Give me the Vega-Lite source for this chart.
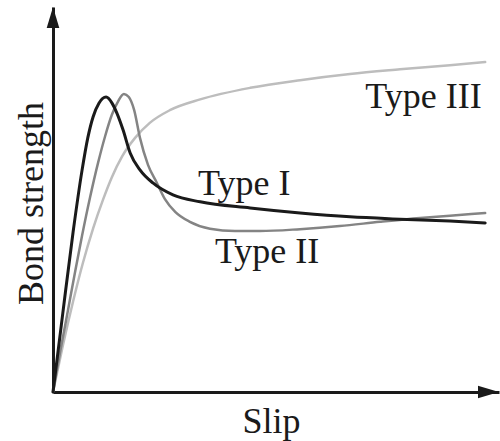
{
  "$schema": "https://vega.github.io/schema/vega-lite/v6.json",
  "width": 446,
  "height": 385,
  "autosize": {"type": "none"},
  "padding": {"left": 53, "top": 7, "right": 1, "bottom": 49},
  "background": "white",
  "config": {"view": {"stroke": null}, "font": "Liberation Serif"},
  "datasets": {
    "curves": [
      {"type": "Type III", "slip": 0, "bond": 0},
      {"type": "Type III", "slip": 0.22, "bond": 1.2},
      {"type": "Type III", "slip": 0.45, "bond": 2.35},
      {"type": "Type III", "slip": 0.67, "bond": 3.35},
      {"type": "Type III", "slip": 0.9, "bond": 4.25},
      {"type": "Type III", "slip": 1.12, "bond": 4.99},
      {"type": "Type III", "slip": 1.32, "bond": 5.58},
      {"type": "Type III", "slip": 1.55, "bond": 6.12},
      {"type": "Type III", "slip": 1.84, "bond": 6.6},
      {"type": "Type III", "slip": 2.17, "bond": 6.99},
      {"type": "Type III", "slip": 2.62, "bond": 7.32},
      {"type": "Type III", "slip": 3.3, "bond": 7.6},
      {"type": "Type III", "slip": 4.42, "bond": 7.9},
      {"type": "Type III", "slip": 5.54, "bond": 8.1},
      {"type": "Type III", "slip": 6.66, "bond": 8.26},
      {"type": "Type III", "slip": 7.78, "bond": 8.38},
      {"type": "Type III", "slip": 8.9, "bond": 8.49},
      {"type": "Type III", "slip": 9.69, "bond": 8.57},

      {"type": "Type II", "slip": 0, "bond": 0},
      {"type": "Type II", "slip": 0.17, "bond": 1.1},
      {"type": "Type II", "slip": 0.34, "bond": 2.15},
      {"type": "Type II", "slip": 0.5, "bond": 3.15},
      {"type": "Type II", "slip": 0.65, "bond": 4.05},
      {"type": "Type II", "slip": 0.83, "bond": 5.05},
      {"type": "Type II", "slip": 1.01, "bond": 5.95},
      {"type": "Type II", "slip": 1.17, "bond": 6.65},
      {"type": "Type II", "slip": 1.32, "bond": 7.2},
      {"type": "Type II", "slip": 1.46, "bond": 7.55},
      {"type": "Type II", "slip": 1.59, "bond": 7.74},
      {"type": "Type II", "slip": 1.7, "bond": 7.66},
      {"type": "Type II", "slip": 1.82, "bond": 7.32},
      {"type": "Type II", "slip": 1.95, "bond": 6.6},
      {"type": "Type II", "slip": 2.13, "bond": 5.9},
      {"type": "Type II", "slip": 2.33, "bond": 5.43},
      {"type": "Type II", "slip": 2.51, "bond": 5.01},
      {"type": "Type II", "slip": 2.74, "bond": 4.68},
      {"type": "Type II", "slip": 3.07, "bond": 4.42},
      {"type": "Type II", "slip": 3.52, "bond": 4.24},
      {"type": "Type II", "slip": 4.08, "bond": 4.18},
      {"type": "Type II", "slip": 4.64, "bond": 4.18},
      {"type": "Type II", "slip": 5.54, "bond": 4.23},
      {"type": "Type II", "slip": 6.43, "bond": 4.31},
      {"type": "Type II", "slip": 7.33, "bond": 4.42},
      {"type": "Type II", "slip": 8.23, "bond": 4.52},
      {"type": "Type II", "slip": 8.9, "bond": 4.58},
      {"type": "Type II", "slip": 9.69, "bond": 4.65},

      {"type": "Type I", "slip": 0, "bond": 0},
      {"type": "Type I", "slip": 0.22, "bond": 2.05},
      {"type": "Type I", "slip": 0.45, "bond": 4.15},
      {"type": "Type I", "slip": 0.65, "bond": 5.75},
      {"type": "Type I", "slip": 0.78, "bond": 6.6},
      {"type": "Type I", "slip": 0.9, "bond": 7.15},
      {"type": "Type I", "slip": 1.03, "bond": 7.5},
      {"type": "Type I", "slip": 1.19, "bond": 7.66},
      {"type": "Type I", "slip": 1.32, "bond": 7.51},
      {"type": "Type I", "slip": 1.43, "bond": 7.25},
      {"type": "Type I", "slip": 1.57, "bond": 6.81},
      {"type": "Type I", "slip": 1.73, "bond": 6.21},
      {"type": "Type I", "slip": 1.95, "bond": 5.77},
      {"type": "Type I", "slip": 2.24, "bond": 5.43},
      {"type": "Type I", "slip": 2.69, "bond": 5.12},
      {"type": "Type I", "slip": 3.3, "bond": 4.94},
      {"type": "Type I", "slip": 4.42, "bond": 4.78},
      {"type": "Type I", "slip": 5.54, "bond": 4.65},
      {"type": "Type I", "slip": 6.66, "bond": 4.55},
      {"type": "Type I", "slip": 7.78, "bond": 4.49},
      {"type": "Type I", "slip": 8.9, "bond": 4.44},
      {"type": "Type I", "slip": 9.69, "bond": 4.39}
    ],
    "labels": [
      {"label": "Type I", "slip": 3.25, "bond": 5.12},
      {"label": "Type II", "slip": 3.63, "bond": 3.35},
      {"label": "Type III", "slip": 7.0, "bond": 7.38}
    ],
    "arrowX": [{"slip": 10, "bond": 0}],
    "arrowY": [{"slip": 0, "bond": 10}]
  },
  "encoding": {
    "x": {
      "field": "slip",
      "type": "quantitative",
      "scale": {"domain": [0, 10], "nice": false, "zero": false},
      "axis": {
        "title": "Slip",
        "domain": true,
        "domainColor": "#1a1a1a",
        "domainWidth": 3,
        "ticks": false,
        "labels": false,
        "grid": false,
        "titleFont": "Liberation Serif",
        "titleFontSize": 36,
        "titleFontWeight": "normal",
        "titleColor": "#1a1a1a",
        "titleAlign": "center",
        "titleBaseline": "alphabetic",
        "titleX": 218,
        "titleY": 40
      }
    },
    "y": {
      "field": "bond",
      "type": "quantitative",
      "scale": {"domain": [0, 10], "nice": false, "zero": false},
      "axis": {
        "title": "Bond strength",
        "domain": true,
        "domainColor": "#1a1a1a",
        "domainWidth": 3,
        "ticks": false,
        "labels": false,
        "grid": false,
        "titleFont": "Liberation Serif",
        "titleFontSize": 36,
        "titleFontWeight": "normal",
        "titleColor": "#1a1a1a",
        "titleAngle": 270,
        "titleAlign": "center",
        "titleBaseline": "alphabetic",
        "titleX": -11,
        "titleY": 196
      }
    }
  },
  "layer": [
    {
      "data": {"name": "curves"},
      "transform": [{"filter": "datum.type === 'Type III'"}],
      "mark": {"type": "line", "interpolate": "monotone", "strokeWidth": 2.5, "color": "#bdbdbd", "strokeCap": "round"}
    },
    {
      "data": {"name": "curves"},
      "transform": [{"filter": "datum.type === 'Type II'"}],
      "mark": {"type": "line", "interpolate": "monotone", "strokeWidth": 2.5, "color": "#848484", "strokeCap": "round"}
    },
    {
      "data": {"name": "curves"},
      "transform": [{"filter": "datum.type === 'Type I'"}],
      "mark": {"type": "line", "interpolate": "monotone", "strokeWidth": 3, "color": "#1a1a1a", "strokeCap": "round"}
    },
    {
      "data": {"name": "labels"},
      "mark": {"type": "text", "align": "left", "baseline": "alphabetic", "font": "Liberation Serif", "fontSize": 36, "color": "#1a1a1a"},
      "encoding": {"text": {"field": "label", "type": "nominal"}}
    },
    {
      "data": {"name": "arrowX"},
      "mark": {"type": "point", "shape": "M0,0L-2,-0.6L-2,0.6Z", "size": 441, "filled": true, "opacity": 1, "color": "#1a1a1a", "strokeWidth": 0}
    },
    {
      "data": {"name": "arrowY"},
      "mark": {"type": "point", "shape": "M0,0L-0.6,2L0.6,2Z", "size": 441, "filled": true, "opacity": 1, "color": "#1a1a1a", "strokeWidth": 0}
    }
  ]
}
